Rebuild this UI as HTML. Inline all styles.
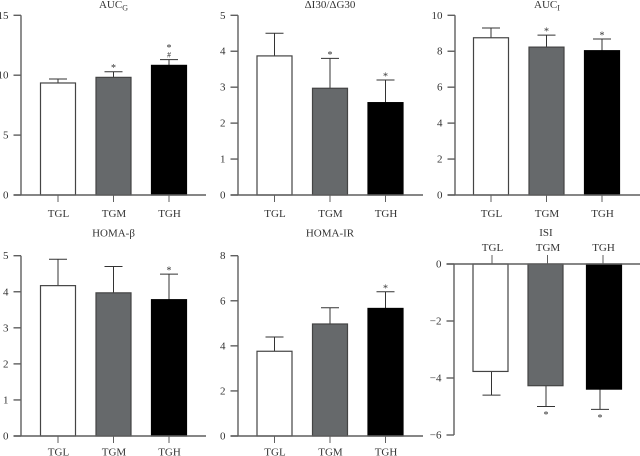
<!DOCTYPE html>
<html>
<head>
<meta charset="utf-8">
<style>
html,body{margin:0;padding:0;background:#fff;}
svg{display:block;font-family:"Liberation Serif",serif;}
text{fill:#333;}
</style>
</head>
<body>
<svg id="chart" xmlns="http://www.w3.org/2000/svg" width="640" height="456" viewBox="0 0 640 456"></svg>
<script>
const categories = ["TGL", "TGM", "TGH"];
const titles = ["AUC", "ΔI30/ΔG30", "AUC", "HOMA-β", "HOMA-IR", "ISI"];
const titleSubs = ["G", "", "I", "", "", ""];
const aucGMeans = [9.35, 9.82, 10.82];
const aucGErrors = [0.33, 0.47, 0.48];
const ratioMeans = [3.87, 2.97, 2.57];
const ratioErrors = [0.63, 0.83, 0.63];
const aucIMeans = [8.75, 8.23, 8.03];
const aucIErrors = [0.54, 0.67, 0.65];
const betaMeans = [4.17, 3.97, 3.78];
const betaErrors = [0.73, 0.73, 0.71];
const irMeans = [3.76, 4.97, 5.66];
const irErrors = [0.63, 0.72, 0.74];
const isiMeans = [-3.77, -4.27, -4.39];
const isiErrors = [0.83, 0.73, 0.71];
const aucGTicks = [0, 5, 10, 15];
const ratioTicks = [0, 1, 2, 3, 4, 5];
const aucITicks = [0, 2, 4, 6, 8, 10];
const betaTicks = [0, 1, 2, 3, 4, 5];
const irTicks = [0, 2, 4, 6, 8];
const isiTicks = [0, -2, -4, -6];
const aucGMarks = ["", "*", "*|#"];
const ratioMarks = ["", "*", "*"];
const aucIMarks = ["", "*", "*"];
const betaMarks = ["", "", "*"];
const irMarks = ["", "", "*"];
const isiMarks = ["", "*", "*"];

const meansByPanel = [aucGMeans, ratioMeans, aucIMeans, betaMeans, irMeans, isiMeans];
const errorsByPanel = [aucGErrors, ratioErrors, aucIErrors, betaErrors, irErrors, isiErrors];
const ticksByPanel = [aucGTicks, ratioTicks, aucITicks, betaTicks, irTicks, isiTicks];
const marksByPanel = [aucGMarks, ratioMarks, aucIMarks, betaMarks, irMarks, isiMarks];

const frames = [
  {ax: 21, right: 206, top: 15.3, bottom: 195, first: 58, step: 55.5, titleX: 113.5, titleY: 8, labelGap: 22},
  {ax: 238, right: 423, top: 15.3, bottom: 195, first: 274.5, step: 55.5, titleX: 330, titleY: 8, labelGap: 22},
  {ax: 455, right: 640, top: 15.3, bottom: 195, first: 491, step: 55.5, titleX: 547, titleY: 8, labelGap: 22},
  {ax: 21, right: 206, top: 255.7, bottom: 436, first: 58, step: 55.5, titleX: 113.5, titleY: 236.5, labelGap: 19.5},
  {ax: 238, right: 423, top: 255.7, bottom: 436, first: 274.5, step: 55.5, titleX: 330, titleY: 236.5, labelGap: 19.5},
  {ax: 454, right: 640, top: 264, bottom: 435, first: 492, step: 55.5, titleX: 546, titleY: 236, labelGap: -13, inverted: true, barShift: [-1.5, -2, 1], errShift: [-0.5, -1.5, -3]}
];
const fills = ["#ffffff", "#66696b", "#000000"];
const axisColor = "#5f5f5f";
const NS = "http://www.w3.org/2000/svg";
const svg = document.getElementById("chart");

function make(tag, attrs, parent, text) {
  const el = document.createElementNS(NS, tag);
  for (const k in attrs) el.setAttribute(k, attrs[k]);
  if (text !== undefined) el.textContent = text;
  parent.appendChild(el);
  return el;
}

function yScale(f, ticks) {
  const lo = Math.min.apply(null, ticks);
  const hi = Math.max.apply(null, ticks);
  if (f.inverted) return function (v) { return f.top + (hi - v) / (hi - lo) * (f.bottom - f.top); };
  return function (v) { return f.bottom - (v - lo) / (hi - lo) * (f.bottom - f.top); };
}

function xScale(f, i) {
  return f.first + f.step * i;
}

frames.forEach(function (f, p) {
  const y = yScale(f, ticksByPanel[p]);
  const zero = y(0);
  const g = make("g", {}, svg);
  
  

  const title = make("text", {x: f.titleX, y: f.titleY, "text-anchor": "middle", "font-size": 11}, g, titles[p]);
  
  
  if (titleSubs[p]) {
    make("tspan", {dy: 2.5, "font-size": 8}, title, titleSubs[p]);
  }

  categories.forEach(function (c, i) {
    const cx = xScale(f, i);
    const barX = cx + (f.barShift ? f.barShift[i] : 0);
    const errX = cx + (f.errShift ? f.errShift[i] : 0);
    const v = meansByPanel[p][i];
    const e = errorsByPanel[p][i];
    const tip = v < 0 ? v - e : v + e;
    const barTop = Math.min(y(v), zero);
    const barH = Math.abs(y(v) - zero);

    const stem = make("line", {x1: errX, x2: errX, y1: y(v), y2: y(tip), stroke: "#333", "stroke-width": 1}, g);
    
    
    const cap = make("line", {x1: errX - 9, x2: errX + 9, y1: y(tip), y2: y(tip), stroke: "#333", "stroke-width": 1}, g);
    
    

    const bar = make("rect", {x: barX - 17.5, y: barTop, width: 35, height: barH, fill: fills[i], stroke: i === 2 ? "#000" : "#444", "stroke-width": 1.2}, g);
    
    

    const tick = make("line", {x1: cx, x2: cx, y1: zero, y2: f.inverted ? zero - 9 : zero + 7, stroke: axisColor, "stroke-width": 1}, g);
    
    

    const label = make("text", {x: cx + 0.5, y: zero + f.labelGap, "text-anchor": "middle", "font-size": 11}, g, c);
    
    

    const marks = marksByPanel[p][i].split("|").filter(Boolean);
    marks.forEach(function (m, k) {
      const fromEnd = marks.length - 1 - k;
      const offset = 4.5 + fromEnd * 8.3;
      const my = v < 0 ? y(tip) + 9 : y(tip) + 1.5 - offset;
      const mark = make("text", {x: errX, y: m === "#" ? my + 0.8 : my + 2.5, "text-anchor": "middle", "font-size": m === "#" ? 8 : 10}, g, m);
      
      
    });
  });

  const yAxis = make("line", {x1: f.ax, x2: f.ax, y1: f.top, y2: f.bottom, stroke: axisColor, "stroke-width": 1.4}, g);
  
  
  const xAxis = make("line", {x1: f.ax - 7.5, x2: f.right, y1: zero, y2: zero, stroke: axisColor, "stroke-width": 1.4}, g);
  
  

  ticksByPanel[p].forEach(function (t) {
    const tk = make("line", {x1: f.ax - 7.5, x2: f.ax, y1: y(t), y2: y(t), stroke: axisColor, "stroke-width": 1.4}, g);
    
    
    const lb = make("text", {x: f.ax - 12.5, y: y(t) + 3.5, "text-anchor": "end", "font-size": 11}, g, String(t).replace("-", "\u2212"));
    
    
  });
});
</script>
</body>
</html>
